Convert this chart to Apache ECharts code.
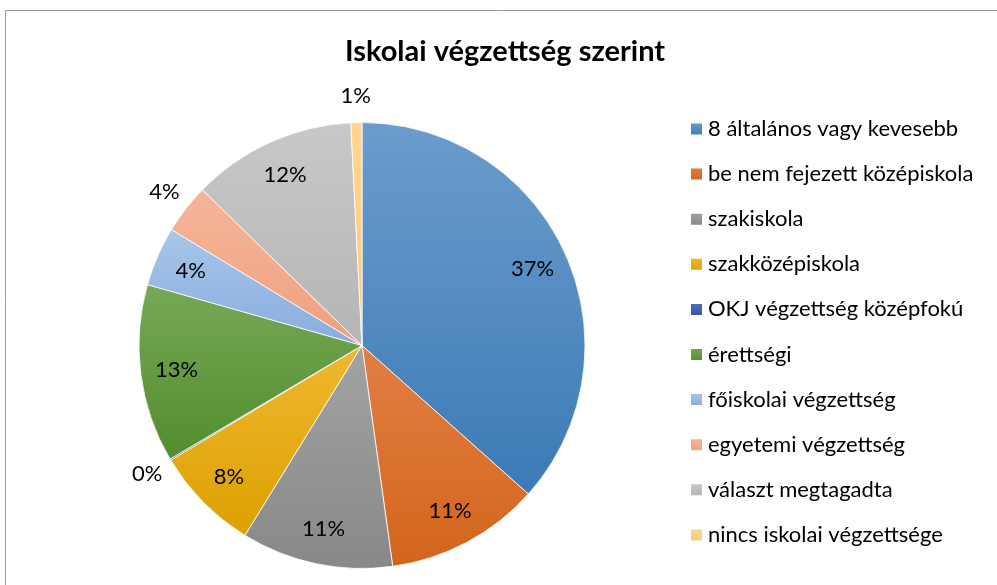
<!DOCTYPE html>
<html>
<head>
<meta charset="utf-8">
<script src="https://cdn.jsdelivr.net/npm/echarts@6/dist/echarts.min.js"></script>
<style>
html,body{margin:0;padding:0;background:#fff;}
#c{width:997px;height:585px;}
</style>
</head>
<body>
<div id="c"></div>
<script>
const titleText = 'Iskolai végzettség szerint';
const categories = [
  '8 általános vagy kevesebb',
  'be nem fejezett középiskola',
  'szakiskola',
  'szakközépiskola',
  'OKJ végzettség középfokú',
  'érettségi',
  'főiskolai végzettség',
  'egyetemi végzettség',
  'választ megtagadta',
  'nincs iskolai végzettsége'
];
const values = [36.6, 11.2, 11.0, 7.6, 0.1, 12.9, 4.3, 3.6, 11.9, 0.8];
const colorTop    = ['#6b9ccc', '#e27f44', '#a3a3a3', '#f0b830', '#4a72b8', '#76a856', '#a8c6e8', '#f5b59a', '#c8c8c8', '#ffd690'];
const colorBottom = ['#3c7ab6', '#d2651c', '#888888', '#dca000', '#2f56a0', '#538d2e', '#88acdf', '#f0a07e', '#b5b5b5', '#fbc97a'];

const CX = 362, CY = 345.5, R = 223;
const total = values.reduce((a, b) => a + b, 0);
const cum = [];
values.reduce((acc, v, i) => { cum[i] = acc; return acc + v; }, 0);

const chart = echarts.init(document.getElementById('c'));
const grad = i => new echarts.graphic.LinearGradient(0, 0, 0, 1, [
  { offset: 0, color: colorTop[i] },
  { offset: 1, color: colorBottom[i] }
]);

chart.setOption({
  backgroundColor: '#fff',
  animation: false,
  title: {
    text: titleText,
    left: 505,
    top: 37,
    padding: 0,
    textAlign: 'center',
    textStyle: { fontFamily: 'Lato', fontWeight: 'bold', fontSize: 29, color: '#000' }
  },
  graphic: [{
    type: 'rect',
    shape: { x: 5.5, y: 10.5, width: 1000, height: 600 },
    style: { fill: 'none', stroke: '#9a9a9a', lineWidth: 1 },
    silent: true
  }],
  legend: {
    orient: 'vertical',
    left: 689,
    top: 118,
    padding: 0,
    itemWidth: 13,
    itemHeight: 13,
    itemGap: 23.1,
    icon: 'rect',
    textStyle: { fontFamily: 'Lato', fontSize: 22, color: '#000', lineHeight: 22 },
    data: categories
  },
  series: [{
    type: 'pie',
    center: [CX, CY],
    radius: [0, R],
    startAngle: 90,
    clockwise: true,
    avoidLabelOverlap: false,
    itemStyle: { borderColor: '#fff', borderWidth: 0.8 },
    label: {
      show: true,
      position: 'inside',
      fontFamily: 'Lato',
      fontSize: 22,
      color: '#000',
      formatter: p => Math.round(p.percent) + '%'
    },
    labelLine: { show: false },
    labelLayout: function (p) {
      const i = p.dataIndex;
      const pct = values[i] / total * 100;
      const rr = pct < 4 ? 250 : 187;
      const a = 2 * Math.PI * (cum[i] + values[i] / 2) / total;
      return {
        x: CX + rr * Math.sin(a),
        y: CY - rr * Math.cos(a),
        align: 'center',
        verticalAlign: 'middle'
      };
    },
    data: categories.map((n, i) => ({ name: n, value: values[i], itemStyle: { color: grad(i) } }))
  }]
});
</script>
</body>
</html>
